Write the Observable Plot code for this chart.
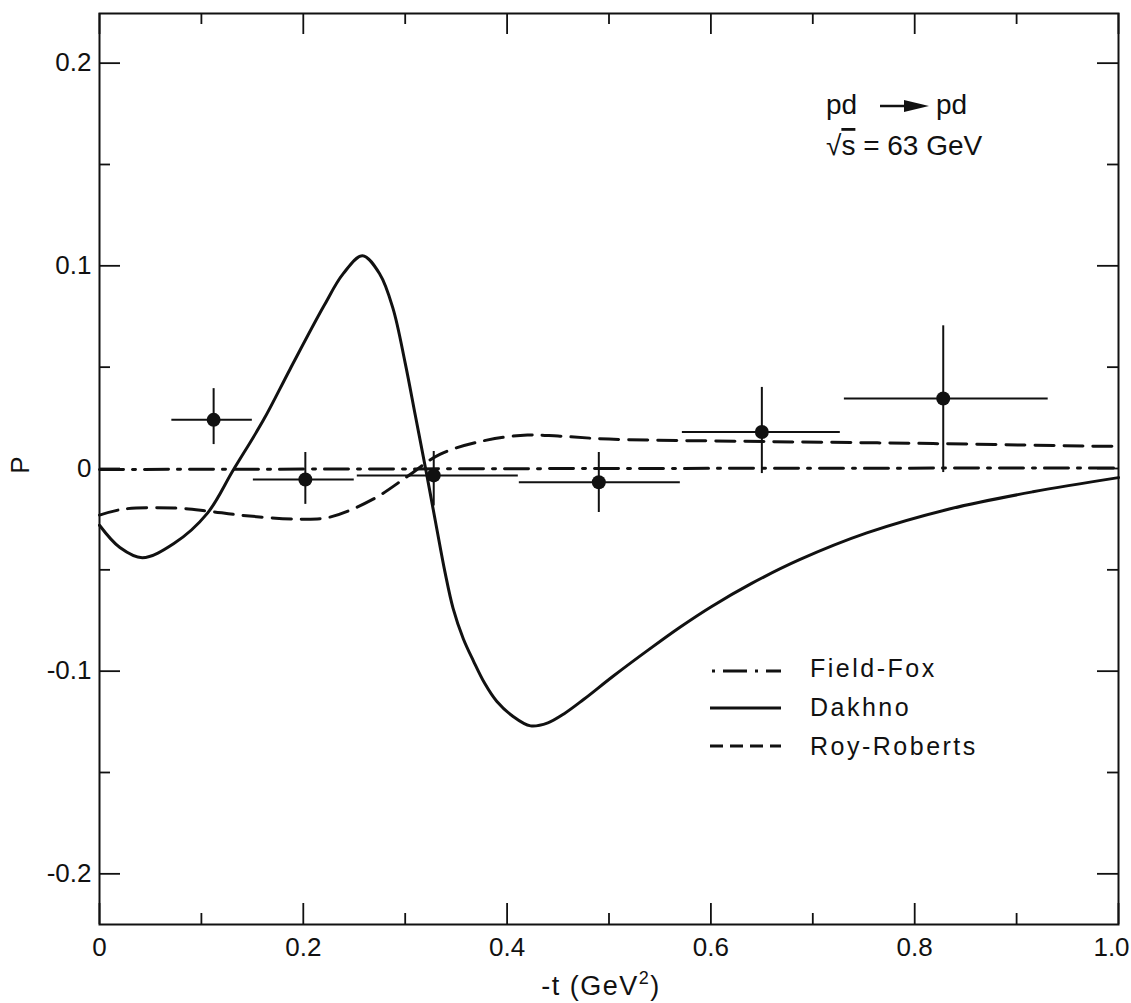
<!DOCTYPE html>
<html><head><meta charset="utf-8">
<script src="https://cdn.jsdelivr.net/npm/d3@7"></script>
<script src="https://cdn.jsdelivr.net/npm/@observablehq/plot@0.6"></script>
<style>
html,body{margin:0;padding:0;background:#fff;}
#wrap{position:relative;width:1131px;height:1003px;font-family:"Liberation Sans",Arial,sans-serif;color:#111;}
#wrap svg{display:block;}
#over{position:absolute;left:0;top:0;pointer-events:none;}
</style></head><body><div id="wrap"></div>
<script>
// ---- tick values ----
const tMajor = [0, 0.2, 0.4, 0.6, 0.8, 1.0];
const tMinor = [0.1, 0.3, 0.5, 0.7, 0.9];
const pMajor = [-0.2, -0.1, 0, 0.1, 0.2];
const pMinor = [-0.15, -0.05, 0.05, 0.15];

// ---- measured points (pd -> pd, sqrt(s)=63 GeV) ----
const ptT   = [0.112, 0.202, 0.328, 0.490, 0.650, 0.828];
const ptP   = [0.024, -0.0054, -0.0034, -0.0068, 0.018, 0.0345];
const ptTlo = [0.071, 0.151, 0.253, 0.412, 0.572, 0.731];
const ptThi = [0.150, 0.250, 0.411, 0.570, 0.727, 0.931];
const ptPlo = [0.0118, -0.0177, -0.0185, -0.0217, -0.0025, -0.002];
const ptPhi = [0.0394, 0.0079, 0.0084, 0.0079, 0.040, 0.0704];

// ---- theory curves ----
const dakhnoT = [0, 0.020, 0.042, 0.073, 0.106, 0.131, 0.161, 0.187, 0.220, 0.239, 0.258, 0.275, 0.288, 0.300, 0.310, 0.320, 0.330, 0.339, 0.347, 0.357, 0.367, 0.378, 0.390, 0.405, 0.423, 0.440, 0.456, 0.475, 0.504, 0.540, 0.570, 0.600, 0.640, 0.687, 0.753, 0.834, 0.916, 1.0];
const dakhnoP = [-0.028, -0.039, -0.044, -0.037, -0.022, -0.001, 0.024, 0.049, 0.080, 0.096, 0.105, 0.096, 0.079, 0.052, 0.026, 0, -0.027, -0.051, -0.069, -0.084, -0.095, -0.106, -0.115, -0.122, -0.127, -0.1255, -0.121, -0.114, -0.1025, -0.089, -0.0782, -0.0683, -0.0567, -0.045, -0.0318, -0.020, -0.0115, -0.0045];

const royT = [0, 0.024, 0.073, 0.106, 0.138, 0.194, 0.226, 0.269, 0.302, 0.334, 0.380, 0.420, 0.450, 0.500, 0.655, 0.818, 0.981, 1.0];
const royP = [-0.023, -0.020, -0.0195, -0.021, -0.023, -0.025, -0.024, -0.015, -0.004, 0.007, 0.014, 0.0165, 0.016, 0.0145, 0.0133, 0.0123, 0.011, 0.011];

const foxT = [0, 0.5, 1.0];
const foxP = [-0.0005, 0, 0.0003];

// ---- layout ----
const W = 1131, H = 1003, mL = 99, mR = 13, mT = 13, mB = 79;
const plotW = W - mL - mR, plotH = H - mT - mB;
const majLen = 21, minLen = 11;

const points = ptT.map((t, i) => ({t, p: ptP[i], tlo: ptTlo[i], thi: ptThi[i], plo: ptPlo[i], phi: ptPhi[i]}));
const dakhno = dakhnoT.map((t, i) => ({t, p: dakhnoP[i]}));
const roy = royT.map((t, i) => ({t, p: royP[i]}));
const fox = foxT.map((t, i) => ({t, p: foxP[i]}));

const fmt = d => d === 0 ? "0" : d.toFixed(1);
const ink = "#111";

const chart = Plot.plot({
  width: W, height: H,
  marginLeft: mL, marginRight: mR, marginTop: mT, marginBottom: mB,
  x: {domain: [0, 1]},
  y: {domain: [-0.225, 0.2245]},
  style: {fontFamily: '"Liberation Sans", Arial, sans-serif', fontSize: "26px", color: ink, background: "#fff"},
  marks: [
    // ticks, inward on all four sides
    Plot.tickX(tMajor, {x: d => d, insetTop: plotH - majLen, stroke: ink, strokeWidth: 1.8}),
    Plot.tickX(tMinor, {x: d => d, insetTop: plotH - minLen, stroke: ink, strokeWidth: 1.8}),
    Plot.tickX(tMajor, {x: d => d, insetBottom: plotH - majLen, stroke: ink, strokeWidth: 1.8}),
    Plot.tickX(tMinor, {x: d => d, insetBottom: plotH - minLen, stroke: ink, strokeWidth: 1.8}),
    Plot.tickY(pMajor, {y: d => d, insetRight: plotW - majLen, stroke: ink, strokeWidth: 1.8}),
    Plot.tickY(pMinor, {y: d => d, insetRight: plotW - minLen, stroke: ink, strokeWidth: 1.8}),
    Plot.tickY(pMajor, {y: d => d, insetLeft: plotW - majLen, stroke: ink, strokeWidth: 1.8}),
    Plot.tickY(pMinor, {y: d => d, insetLeft: plotW - minLen, stroke: ink, strokeWidth: 1.8}),
    Plot.axisX(tMajor.slice(0, -1), {tickSize: 0, tickPadding: 13, tickFormat: fmt, label: null, fontSize: 26, fill: ink}),
    Plot.axisX(tMajor.slice(-1), {tickSize: 0, tickPadding: 13, tickFormat: fmt, label: null, fontSize: 26, fill: ink, dx: -7}),
    Plot.axisY(pMajor, {tickSize: 0, tickPadding: 8, tickFormat: fmt, label: null, fontSize: 26, fill: ink}),
    // theory curves
    Plot.line(fox, {x: "t", y: "p", stroke: ink, strokeWidth: 3, strokeDasharray: "24,9,3,9"}),
    Plot.line(roy, {x: "t", y: "p", stroke: ink, strokeWidth: 3, strokeDasharray: "19,10", curve: "catmull-rom"}),
    Plot.line(dakhno, {x: "t", y: "p", stroke: ink, strokeWidth: 3, curve: "catmull-rom"}),
    // data with error bars
    Plot.ruleX(points, {x: "t", y1: "plo", y2: "phi", stroke: ink, strokeWidth: 2}),
    Plot.ruleY(points, {y: "p", x1: "tlo", x2: "thi", stroke: ink, strokeWidth: 2}),
    Plot.dot(points, {x: "t", y: "p", r: 7, fill: ink, stroke: "none"}),
    Plot.frame({stroke: ink, strokeWidth: 2})
  ]
});

const wrap = document.getElementById("wrap");
wrap.appendChild(chart);

// ---- overlay: axis titles, annotation, legend ----
const ns = "http://www.w3.org/2000/svg";
const over = document.createElementNS(ns, "svg");
over.setAttribute("id", "over");
over.setAttribute("width", W);
over.setAttribute("height", H);
over.innerHTML = `
<g font-family='"Liberation Sans", Arial, sans-serif' fill="${ink}">
  <text x="601" y="995" font-size="27" text-anchor="middle" letter-spacing="1.5">-t  (GeV<tspan font-size="18" dy="-11">2</tspan><tspan dy="11">)</tspan></text>
  <text transform="translate(29,465) rotate(-90)" font-size="26" text-anchor="middle">P</text>

  <text x="826" y="114" font-size="28">pd</text>
  <line x1="880" y1="106" x2="912" y2="106" stroke="${ink}" stroke-width="2.5"/>
  <path d="M904,100 L929,106 L904,112 Z" fill="${ink}"/>
  <text x="936" y="114" font-size="28">pd</text>
  <text x="826" y="155" font-size="28">√<tspan text-decoration="overline">s</tspan> = 63  GeV</text>

  <line x1="712" y1="671" x2="781" y2="671" stroke="${ink}" stroke-width="3" stroke-dasharray="3,8,24,8,3,8,24"/>
  <text x="810" y="677" font-size="25" letter-spacing="2.5">Field-Fox</text>
  <line x1="710" y1="708" x2="781" y2="708" stroke="${ink}" stroke-width="3"/>
  <text x="810" y="716" font-size="25" letter-spacing="2.5">Dakhno</text>
  <line x1="710" y1="746" x2="781" y2="746" stroke="${ink}" stroke-width="3" stroke-dasharray="13,7"/>
  <text x="810" y="755" font-size="25" letter-spacing="2.5">Roy-Roberts</text>
</g>`;
wrap.appendChild(over);
</script>
</body></html>
